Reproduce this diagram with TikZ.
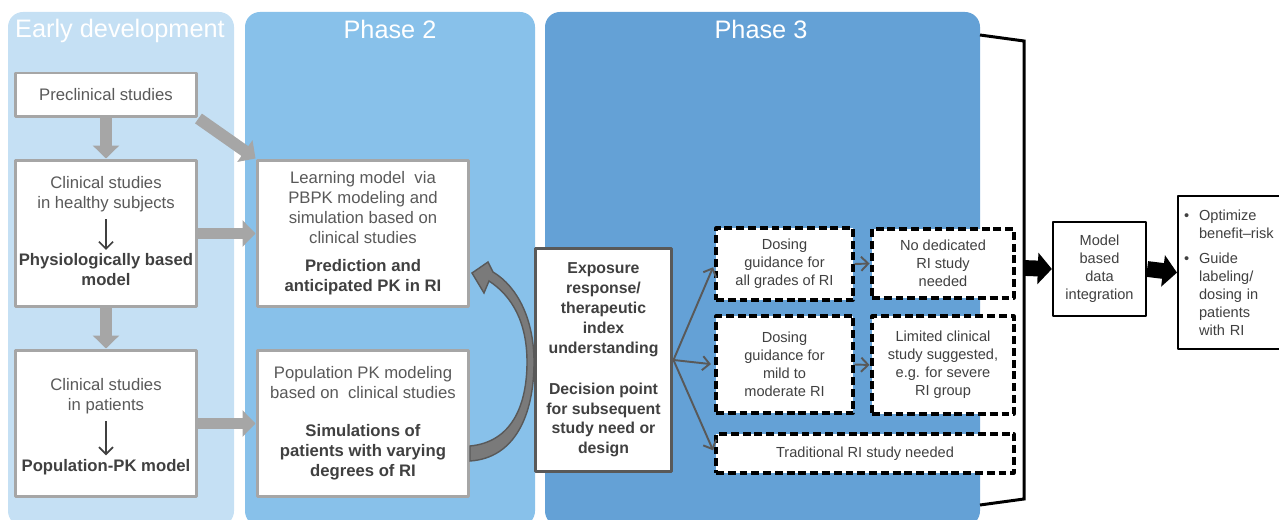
\documentclass[tikz,border=0pt]{standalone}
\usepackage{fontspec}
\setmainfont{Liberation Sans}
\usetikzlibrary{arrows.meta}

\definecolor{earlyblue}{HTML}{C5E0F4}
\definecolor{ptwoblue}{HTML}{88C1EA}
\definecolor{pthreeblue}{HTML}{64A1D6}
\definecolor{boxgray}{HTML}{A6A6A6}
\definecolor{txtgray}{HTML}{595959}
\definecolor{txtdark}{HTML}{404040}
\definecolor{curvegray}{HTML}{7A7A7A}

\newcommand{\bul}{\makebox[8.5pt][l]{\textbullet}}
\newcommand{\ind}{\hspace*{8.5pt}}

\tikzset{
  panel/.style={rounded corners=0.3cm},
  ttl/.style={text=white, anchor=base, font=\fontsize{14.4}{17}\selectfont},
  gbox/.style={draw=boxgray, line width=1.7pt, fill=white, align=center,
    text=txtgray, font=\fontsize{9.5}{11.4}\selectfont, inner sep=0pt},
  gtxt/.style={align=center, text=txtgray, font=\fontsize{9.5}{11.4}\selectfont, inner sep=0pt},
  dbox/.style={draw=black, line width=1.8pt, dash pattern=on 4.5pt off 2.2pt, fill=white,
    align=center, text=txtdark, font=\fontsize{8.3}{10.2}\selectfont, inner sep=0pt},
  kbox/.style={draw=black, line width=1.3pt, fill=white, text=txtdark,
    font=\fontsize{8.3}{10.2}\selectfont, inner sep=0pt},
  blockarr/.style={draw=boxgray, line width=6.8pt, -{Triangle[length=7.4pt,width=14.7pt]}},
  blkarr/.style={draw=black, line width=9pt, -{Triangle[length=8pt,width=17.6pt]}},
  thinarr/.style={draw=txtdark, line width=1pt, ->},
  fanarr/.style={draw=txtgray, line width=1.1pt, ->, shorten >=2pt},
}

\begin{document}
\begin{tikzpicture}[x=0.02cm, y=-0.02cm, line join=round, >={Straight Barb[length=4pt,width=8pt]}]
\useasboundingbox (0,0) rectangle (1279,520);

% phase panels
\fill[earlyblue, panel] (8,12) rectangle (234,526);
\fill[ptwoblue, panel] (245,12) rectangle (535,526);
\fill[pthreeblue, panel] (545,12) rectangle (980,526);
\node[ttl] (tearly) at (120,38) {Early development};
\node[ttl] (ttwo) at (390,38.5) {Phase 2};
\node[ttl] (tthree) at (761,38.5) {Phase 3};

% early development
\node[gbox, minimum width=3.64cm, minimum height=0.88cm] (pre) at (106,95) {Preclinical studies};
\node[gbox, minimum width=3.64cm, minimum height=2.94cm] (hlth) at (106,233.5) {};
\node[gtxt] (hlthA) at (106,194) {Clinical studies\\in healthy subjects};
\node[gtxt, text=txtdark, font=\bfseries\fontsize{9.5}{11.4}\selectfont] (hlthB) at (106,270) {Physiologically based\\model};
\node[gbox, minimum width=3.64cm, minimum height=2.94cm] (pat) at (106,423.5) {};
\node[gtxt] (patA) at (106,396) {Clinical studies\\in patients};
\node[gtxt, text=txtdark, font=\bfseries\fontsize{9.5}{11.4}\selectfont] (patB) at (106,467) {Population-PK model};

\draw[thinarr, shorten <=4pt, shorten >=2pt] (hlthA) -- (hlthB);
\draw[thinarr, shorten <=4pt, shorten >=2pt] (patA) -- (patB);

% phase 2
\node[gbox, minimum width=4.24cm, minimum height=2.94cm] (learn) at (363,233.5)
  {Learning model~ via\\PBPK modeling and\\simulation based on\\clinical studies\\[4.5pt]
   \textcolor{txtdark}{\textbf{Prediction and}}\\\textcolor{txtdark}{\textbf{anticipated PK in RI}}};
\node[gbox, minimum width=4.24cm, minimum height=2.94cm] (popk) at (363,423.5)
  {Population PK modeling\\based on~ clinical studies\\[10pt]
   \textcolor{txtdark}{\textbf{Simulations of}}\\\textcolor{txtdark}{\textbf{patients with varying}}\\
   \textcolor{txtdark}{\textbf{degrees of RI}}};

\draw[blockarr] (pre.south) -- (hlth.north);
\draw[blockarr] (hlth.south) -- (pat.north);
\draw[blockarr] (pre.south east) -- (learn.north west);
\draw[blockarr] (hlth.east) -- (learn.west);
\draw[blockarr] (pat.east) -- (popk.west);

% feedback from simulations to learning model
\filldraw[fill=curvegray, draw=txtgray, line width=0.8pt, line join=miter]
  (470,446) .. controls (512,442) and (527,405) .. (527,362)
  .. controls (527,322) and (512,296) .. (489,281) -- (484,293) -- (472,273)
  -- (488,262) -- (493,272) .. controls (518,287) and (534,320) .. (534,362)
  .. controls (534,415) and (515,458) .. (470,461) -- cycle;

% phase 3
\node[gbox, draw=txtgray, text=txtdark, minimum width=2.74cm, minimum height=4.48cm,
  font=\bfseries\fontsize{9}{11.3}\selectfont] (expo) at (603.5,360)
  {Exposure\\response/\\therapeutic\\index\\understanding\\[12pt]Decision point\\for subsequent\\study need or\\design};

\node[dbox, minimum width=2.74cm, minimum height=1.44cm] (dall) at (784.5,264) {Dosing\\guidance for\\all grades of RI};
\node[dbox, minimum width=2.74cm, minimum height=1.94cm] (dmild) at (784.5,364.5) {Dosing\\guidance for\\mild to\\moderate RI};
\node[dbox, minimum width=5.96cm, minimum height=0.78cm] (trad) at (865,453.5) {Traditional RI study needed};
\node[dbox, minimum width=2.84cm, minimum height=1.38cm] (nostudy) at (943,263.5) {No dedicated\\RI study\\needed};
\node[dbox, minimum width=2.84cm, minimum height=1.96cm] (limited) at (943,365) {Limited clinical\\study suggested,\\e.g. for severe\\RI group};

\draw[fanarr] (expo.east) -- (dall.west);
\draw[fanarr] (expo.east) -- (dmild.west);
\draw[fanarr] (expo.east) -- (trad.west);
\draw[fanarr, shorten >=0.5pt] (dall.east) -- (nostudy.west);
\draw[fanarr, shorten >=0.5pt] (dmild.east) -- (limited.west);

% bracket and integration
\coordinate (brktop) at (980,35);
\coordinate (brkbot) at (980,505);
\draw[line width=1.7pt, line join=miter] (brktop) -- (1024,41) -- (1024,499) -- (brkbot);
\coordinate (brkmid) at (1024,268);

\node[kbox, align=center, minimum width=1.86cm, minimum height=1.88cm] (mbdi) at (1099.5,269)
  {Model\\based\\data\\integration};
\node[kbox, align=left, anchor=north west, text width=3cm, inner xsep=3.4pt,
  minimum height=3.06cm] (res) at (1177,195)
  {\bul Optimize\\\ind benefit--risk\\[4pt]\bul Guide\\\ind labeling/\\\ind dosing in\\\ind patients\\\ind with RI};

\draw[blkarr] (brkmid) -- (mbdi.west);
\draw[blkarr] (mbdi.east) -- (res.west);
\end{tikzpicture}
\end{document}
